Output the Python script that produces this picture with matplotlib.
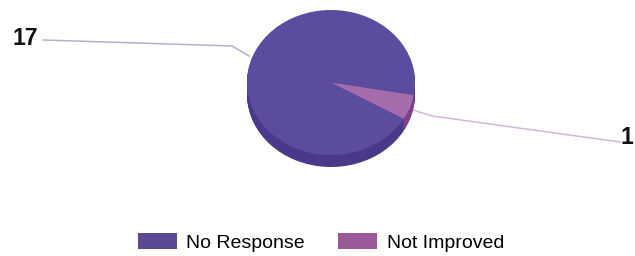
import matplotlib
matplotlib.use("Agg")
import matplotlib.pyplot as plt
from matplotlib.patches import Patch
import numpy as np

categories = ["No Response", "Not Improved"]
values = [17, 1]
top_colors = ["#5c4c9f", "#a56cab"]
side_colors = ["#4a398a", "#7e3f8e"]
legend_colors = ["#5b4a93", "#9a5a9a"]

W, H = 635, 256
fig = plt.figure(figsize=(W / 100, H / 100), dpi=100)

# pie geometry in pixels
cx, cy, rx, ry, depth = 331, 82.5, 84, 72.5, 12
d = depth / ry
ax = fig.add_axes([(cx - rx) / W, 1 - (cy + ry + depth) / H, 2 * rx / W, (2 * ry + depth) / H])
ax.axis("off")
nlayers = 14
for k in range(nlayers, 0, -1):
    off = d * k / nlayers
    ax.pie(values, colors=side_colors, startangle=-10, counterclock=True,
           center=(0, -off), radius=1, wedgeprops=dict(linewidth=0))
wedges, _ = ax.pie(values, colors=top_colors, startangle=-10, counterclock=True,
                   center=(0, 0), radius=1, wedgeprops=dict(linewidth=0))
ax.set_aspect("auto")
ax.set_xlim(-1, 1)
ax.set_ylim(-1 - d, 1)

# overlay for labels and leader lines (pixel coordinates)
ov = fig.add_axes([0, 0, 1, 1], zorder=-1)
ov.set_xlim(0, W)
ov.set_ylim(H, 0)
ov.axis("off")
ov.plot([43, 232, 249], [40, 46, 56], color="#b4aed0", lw=1.1)
ov.plot([413, 432, 620], [110, 116, 142], color="#d2b8d8", lw=1.1)
ov.text(38, 38.5, str(values[0]), ha="right", va="center", fontsize=16.5,
        fontweight="bold", family="Liberation Sans", color="#111111")
ov.text(621, 138, str(values[1]), ha="left", va="center", fontsize=16.5,
        fontweight="bold", family="Liberation Sans", color="#111111")

handles = [Patch(facecolor=c, edgecolor="none") for c in legend_colors]
fig.legend(handles, categories, loc="center", bbox_to_anchor=(321 / W, 1 - 242.5 / H),
           ncol=2, frameon=False, prop=dict(family="Liberation Sans", size=14),
           handlelength=2.0, handleheight=0.9, columnspacing=1.7, handletextpad=0.5)

fig.savefig("out.png", dpi=100, facecolor="white")
